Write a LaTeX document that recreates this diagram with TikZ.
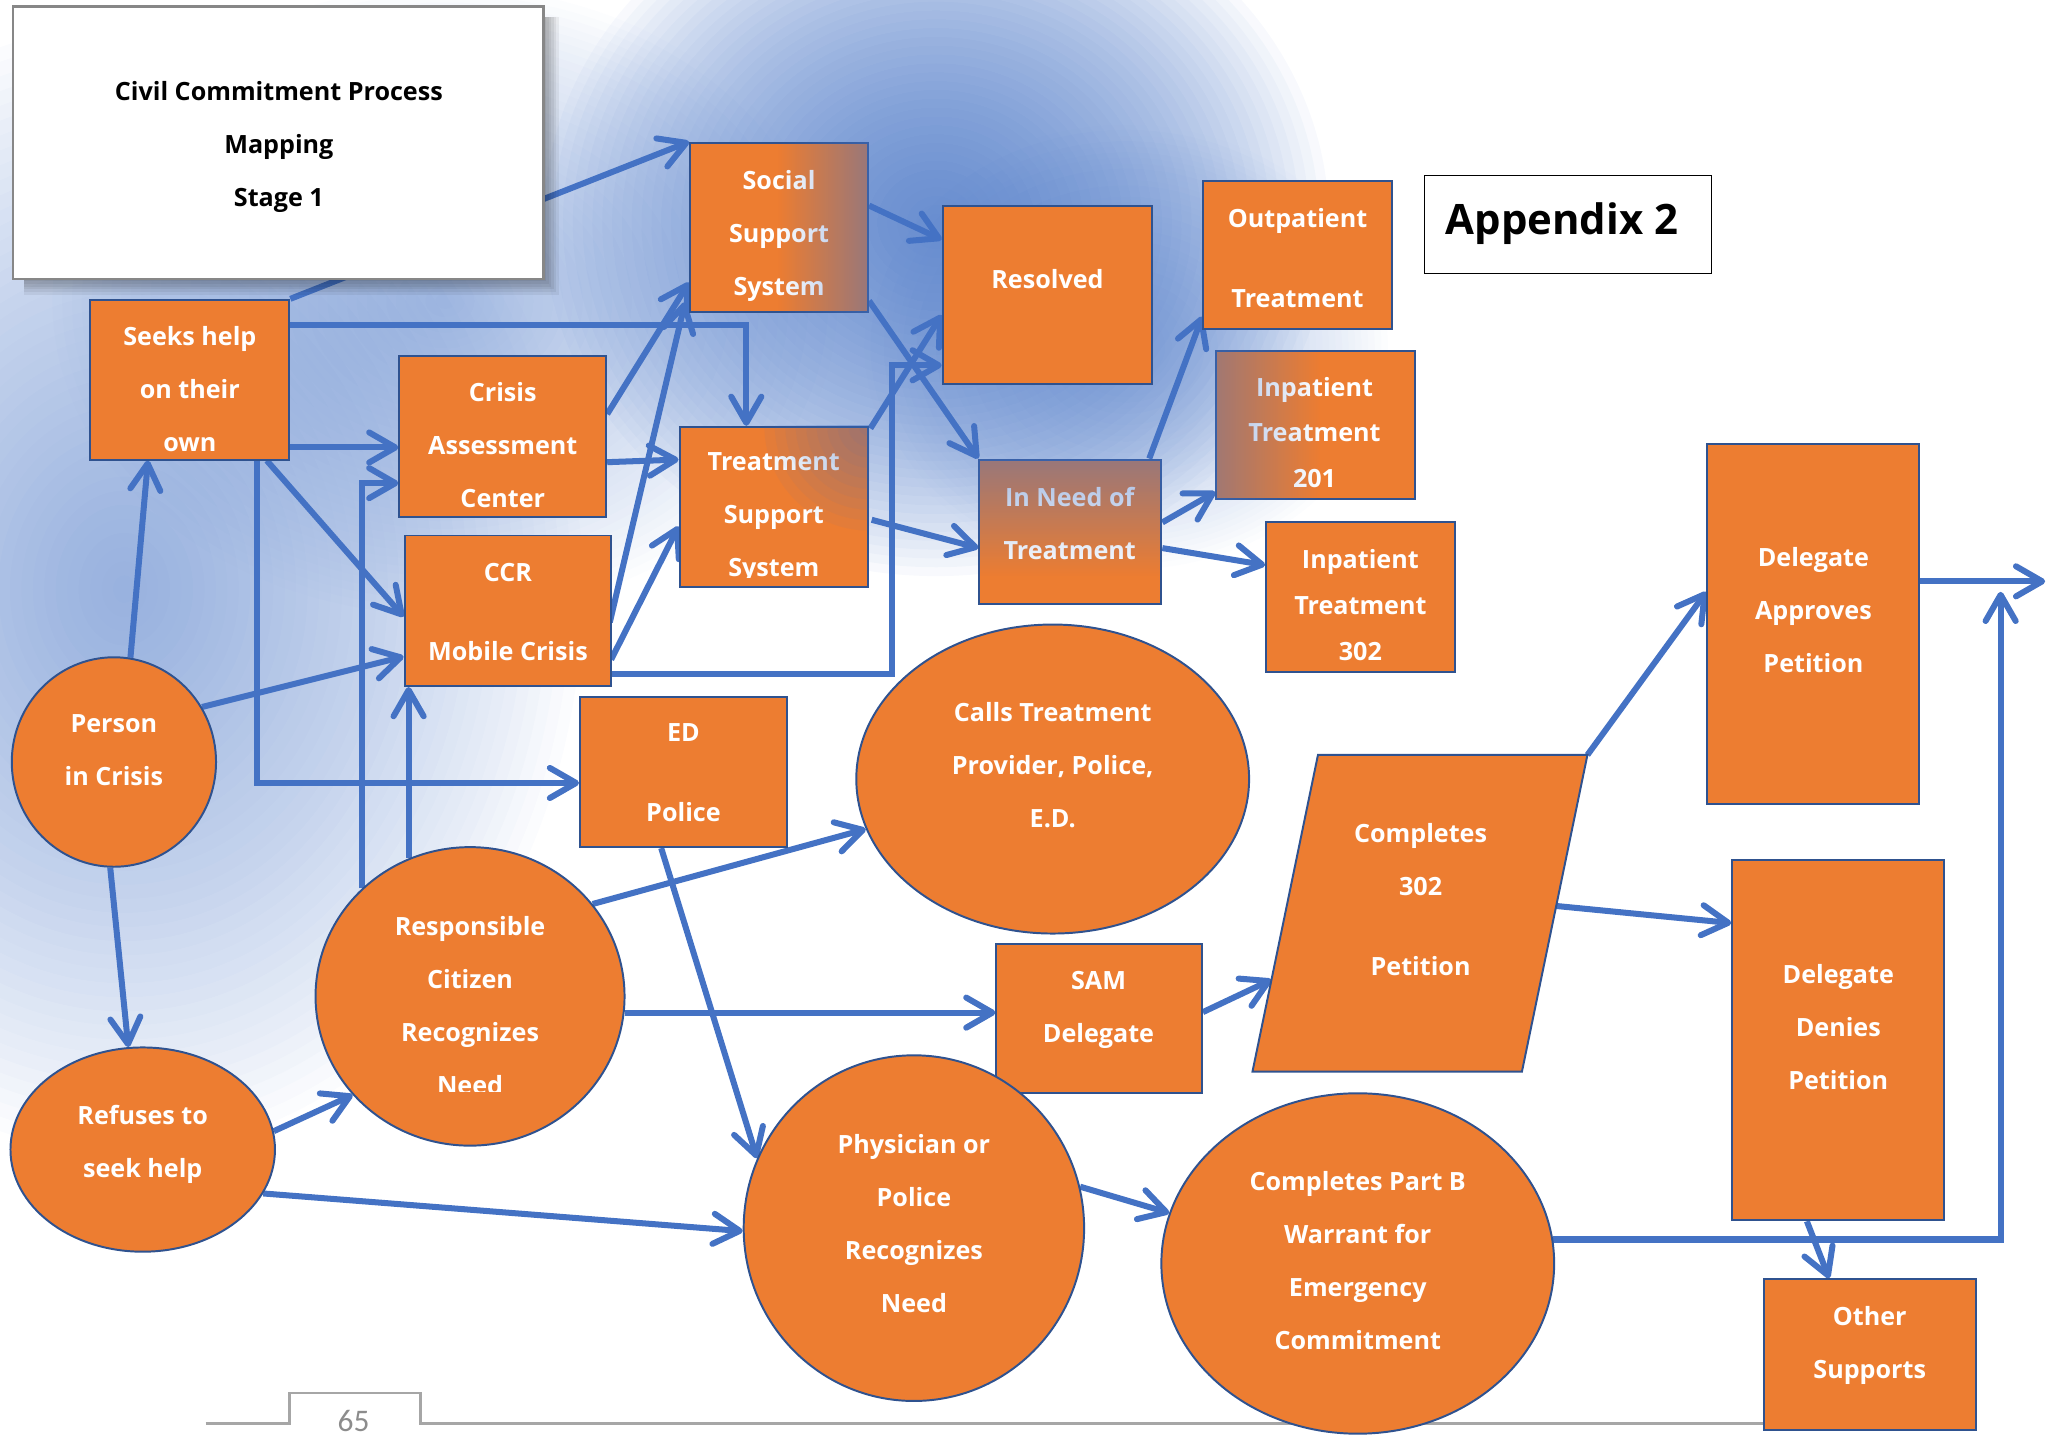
\documentclass[tikz,border=0pt]{standalone}
\usepackage{fontspec}
\setmainfont{Open Sans}
\newfontfamily\pagenumfont{Carlito}
\usetikzlibrary{arrows.meta,calc,fadings,shapes.geometric}

\definecolor{boxorange}{HTML}{ED7D31}
\definecolor{boxedge}{HTML}{2F528F}
\definecolor{linkblue}{HTML}{4472C4}
\definecolor{glowblue}{HTML}{4472C4}
\definecolor{framegray}{HTML}{878787}
\definecolor{footgray}{HTML}{A6A6A6}

\tikzfading[name=toright, left color=transparent!100, right color=transparent!0]
\tikzfading[name=fromleft, left color=transparent!0, right color=transparent!100]
\tikzfading[name=todown, top color=transparent!0, bottom color=transparent!100]

\pgfdeclarelayer{bg}
\pgfdeclarelayer{links}
\pgfsetlayers{bg,links,main}

\newcommand\tstrut{\vrule width 0pt height 10.4pt depth 4pt\relax}
% soft blue blob: centre x, centre y, x radius (pt), y radius (pt), opacity of each ring
\newcommand\hazeblob[5]{%
  \foreach \k in {1,...,40}{%
    \fill[glowblue, opacity=#5] (#1,#2) ellipse [x radius={#3pt*\k/40}, y radius={#4pt*\k/40}];}}

\tikzset{
  box/.style={rectangle, draw=boxedge, line width=0.75pt, fill=boxorange, inner sep=0pt},
  oval/.style={ellipse, draw=boxedge, line width=0.75pt, fill=boxorange, inner sep=0pt},
  boxtext/.style={text=white, font=\bfseries\fontsize{9.6}{20.25}\selectfont, align=center,
    inner sep=0pt, yshift=-2.1pt, execute at begin node=\tstrut, execute at end node=\tstrut},
  tighttext/.style={boxtext, font=\bfseries\fontsize{9.6}{17.5}\selectfont},
  link/.style={draw=linkblue, line width=2.3pt, -{Straight Barb[length=10pt,width=11.5pt,round]}},
}

\begin{document}
\begin{tikzpicture}[x=0.5pt, y=-0.5pt]
\useasboundingbox (0,0) rectangle (1568,1096);

% ---------- background haze and page footer ----------
\begin{pgfonlayer}{bg}
  \hazeblob{95}{450}{175}{215}{0.02}
  \hazeblob{340}{230}{150}{120}{0.015}
  \hazeblob{860}{265}{100}{85}{0.015}
  \hazeblob{715}{170}{150}{135}{0.039}

  \draw[footgray, line width=1pt] (157,1087) -- (221,1087) -- (221,1064) -- (321,1064) -- (321,1087) -- (1420,1087);
  \node[text=black!45, font=\pagenumfont\fontsize{12}{14}\selectfont, anchor=base, inner sep=0pt] (pagenum) at (270,1093) {65};
\end{pgfonlayer}

% ---------- title and appendix tag ----------
\coordinate (shTL) at (18,13);
\coordinate (shBR) at (415,213);
\foreach \d in {2,4,...,12}
  \fill[black, opacity=0.06] (shTL) rectangle ($(shBR)+(\d,\d)$);
\node[draw=framegray, line width=1pt, fill=white, minimum width=202.5pt, minimum height=104pt] (title) at (212.5,109) {};
\node[boxtext, text=black] (title-t) at (213,109.7) {Civil Commitment Process\\Mapping\\Stage 1};

\node[draw=black, line width=0.6pt, fill=white, minimum width=109.5pt, minimum height=37.5pt] (appendix) at (1197.5,171.5) {};
\node[font=\bfseries\fontsize{16}{19}\selectfont, inner sep=0pt] (appendix-t) at (1193,171) {Appendix 2};

% ---------- process boxes ----------
\node[box, minimum width=76pt, minimum height=61pt] (seeks) at (145,290) {};
\node[boxtext] (seeks-t) at (145,296.7) {Seeks help\\on their\\own};

\node[box, minimum width=79pt, minimum height=61.5pt] (cac) at (384,333.5) {};
\node[boxtext] (cac-t) at (384,339.7) {Crisis\\Assessment\\Center};

\node[box, minimum width=79pt, minimum height=57.5pt] (ccr) at (388,466.5) {};
\node[boxtext] (ccr-t) at (388,467) {CCR\\[9.75pt]Mobile Crisis};

\node[box, minimum width=68pt, minimum height=64.5pt] (sss) at (595,173.5) {};
\node[boxtext] (sss-t) at (595,177.7) {Social\\Support\\System};

\node[box, minimum width=72pt, minimum height=61pt] (tss) at (591,387) {};
\begin{scope}
  \clip (tss.north west) rectangle ($(tss.south east)+(0,-8)$);
  \node[boxtext] (tss-t) at (591,392.7) {Treatment\\Support\\System};
\end{scope}

\node[box, minimum width=80pt, minimum height=68pt] (resolved) at (800,225) {};
\node[boxtext] (resolved-t) at (800,210) {Resolved};

\node[box, minimum width=72pt, minimum height=56.5pt] (outpatient) at (991,194.5) {};
\node[boxtext] (outpatient-t) at (991,196.5) {Outpatient\\[10.25pt]Treatment};

\node[box, minimum width=76pt, minimum height=56.5pt] (inp201) at (1005,324.5) {};
\node[tighttext] (inp201-t) at (1004,330) {Inpatient\\Treatment\\201};

\node[box, minimum width=69.5pt, minimum height=55pt] (inneed) at (817.5,406) {};
\node[boxtext] (inneed-t) at (817,399.5) {In Need of\\Treatment};

\node[box, minimum width=72pt, minimum height=57pt] (inp302) at (1039,456) {};
\node[tighttext] (inp302-t) at (1039,462) {Inpatient\\Treatment\\302};

\node[box, minimum width=79pt, minimum height=57.5pt] (ed) at (522,589.5) {};
\node[boxtext] (ed-t) at (522,589.5) {ED\\[10.25pt]Police};

\node[box, minimum width=78.5pt, minimum height=57pt] (sam) at (839.5,778) {};
\node[boxtext] (sam-t) at (839,768.5) {SAM\\Delegate};

\node[box, minimum width=81pt, minimum height=137.5pt] (approves) at (1385,476.5) {};
\node[boxtext] (approves-t) at (1385,465.7) {Delegate\\Approves\\Petition};

\node[box, minimum width=81pt, minimum height=137.5pt] (denies) at (1404,794.5) {};
\node[boxtext] (denies-t) at (1404,784) {Delegate\\Denies\\Petition};

\node[box, minimum width=81pt, minimum height=57.5pt] (other) at (1428,1034.5) {};
\node[boxtext] (other-t) at (1428,1025) {Other\\Supports};

% petition parallelogram
\node[minimum width=127.5pt, minimum height=120.5pt, inner sep=0pt] (petition) at (1084.5,697.5) {};
\coordinate (petBL) at (petition.south west);
\coordinate (petTR) at (petition.north east);
\coordinate (petTL) at ($(petition.north west)+(50,0)$);
\coordinate (petBR) at ($(petition.south east)+(-50,0)$);
\path[draw=boxedge, line width=0.75pt, fill=boxorange] (petBL) -- (petTL) -- (petTR) -- (petBR) -- cycle;
\node[boxtext] (petition-t) at (1085,686.5) {Completes\\302\\[10.25pt]Petition};

% ---------- ovals ----------
\node[oval, minimum width=78pt, minimum height=80pt] (person) at (87,582) {};
\node[boxtext] (person-t) at (87,572.5) {Person\\in Crisis};

\node[oval, minimum width=101pt, minimum height=78pt] (refuses) at (109,878) {};
\node[boxtext] (refuses-t) at (109,871.5) {Refuses to\\seek help};

\node[oval, minimum width=118pt, minimum height=114pt] (citizen) at (359,761) {};
\begin{scope}
  \clip (241,640) rectangle (477,834);
  \node[boxtext] (citizen-t) at (359,768) {Responsible\\Citizen\\Recognizes\\Need};
\end{scope}

\node[oval, minimum width=150pt, minimum height=118pt] (calls) at (804,595) {};
\node[boxtext] (calls-t) at (804,583.7) {Calls Treatment\\Provider, Police,\\E.D.};

\node[oval, minimum width=130pt, minimum height=132pt] (physician) at (698,938) {};
\node[boxtext] (physician-t) at (698,934) {Physician or\\Police\\Recognizes\\Need};

\node[oval, minimum width=150pt, minimum height=130pt] (partb) at (1037,965) {};
\node[boxtext] (partb-t) at (1037,962.5) {Completes Part B\\Warrant for\\Emergency\\Commitment};

% ---------- tinted edges where the haze lies over boxes ----------
\fill[glowblue, opacity=0.5, path fading=toright] ($(sss.north east)+(-70,0)$) rectangle (sss.south east);
\begin{scope}
  \clip (tss.north west) rectangle (tss.south east);
  \foreach \k in {1,...,10}
    \fill[glowblue, opacity=0.055] (tss.north east) circle [radius={4pt*\k}];
\end{scope}
\fill[glowblue, opacity=0.5, path fading=todown] (inneed.north west) rectangle ($(inneed.north east)+(0,90)$);
\fill[glowblue, opacity=0.45, path fading=fromleft] (inp201.north west) rectangle ($(inp201.south west)+(80,0)$);

% free ends on the right
\coordinate (exitR) at (1562,444);
\coordinate (exitUp) at (1528,452);

% ---------- connectors ----------
\begin{pgfonlayer}{links}
\draw[link] (seeks.north east) -- (sss.north west);
\draw[link] ($(seeks.north east)+(0,20)$) -| ($(tss.north)+(-21,0)$);
\draw[link] ($(seeks.south east)+(0,-10)$) coordinate (s3) -- (s3 -| cac.west);
\draw[link] ($(seeks.south)+(51,0)$) |- ($(ed.west)+(0,8.5)$);
\draw[link] ($(seeks.south east)+(-18,0)$) -- ($(ccr.west)+(0,4.5)$);
\draw[link] (person.81) -- ($(seeks.south)+(-32,0)$);
\draw[link] (person.32) -- ($(ccr.west)+(0,35)$);
\draw[link] (person.268) -- (refuses.98);
\draw[link] (refuses.8) -- (citizen.220);
\draw[link] (refuses.-20) -- (physician.181);
\draw[link] (citizen.114) -- (citizen.114 |- ccr.south);
\draw[link] (citizen.135) |- ($(cac.west)+(0,35.5)$);
\draw[link] (citizen.37) -- (calls.195);
\draw[link] (citizen.-6) -- (citizen.-6 -| sam.west);
\draw[link] ($(ed.south)+(-17,0)$) -- (physician.156);
\draw[link] ($(cac.north east)+(0,45)$) -- ($(sss.south west)+(0,-23)$);
\draw[link] ($(ccr.north east)+(-2,67)$) -- ($(sss.south west)+(-3,-8)$);
\draw[link] ($(cac.east)+(0,19.5)$) -- ($(tss.west)+(0,-36)$);
\draw[link] ($(ccr.south east)+(-1,-21)$) -- ($(tss.west)+(0,15)$);
\draw[link] ($(ccr.south east)+(0,-10)$) -| ($(resolved.west)+(-38,54)$) -- ($(resolved.west)+(0,54)$);
\draw[link] ($(sss.east)+(0,-16.5)$) -- ($(resolved.west)+(0,-42)$);
\draw[link] ($(sss.south east)+(0,-9)$) -- (inneed.north west);
\draw[link] ($(tss.north east)+(1,2)$) -- ($(resolved.west)+(0,15.6)$);
\draw[link] ($(tss.east)+(2,10)$) -- ($(inneed.west)+(0,12.5)$);
\draw[link] ($(inneed.north east)+(-10,0)$) -- ($(outpatient.south west)+(0,-10)$);
\draw[link] ($(inneed.east)+(0,-7)$) -- ($(inp201.south west)+(0,-6)$);
\draw[link] ($(inneed.east)+(0,12.6)$) -- ($(inp302.west)+(0,-24.4)$);
\draw[link] ($(sam.east)+(0,-5)$) -- ($(petBL)!0.29!(petTL)$);
\draw[link] (petTR) -- ($(approves.west)+(0,-24.5)$);
\draw[link] ($(petBR)!0.523!(petTR)$) -- ($(denies.west)+(0,-89.5)$);
\draw[link] ($(approves.east)+(0,-32.5)$) coordinate (a1) -- (a1 -| exitR);
\draw[link] (partb.7) -| (exitUp);
\draw[link] ($(denies.south)+(-24,0)$) -- ($(other.north)+(-31,0)$);
\draw[link] (physician.14) -- (partb.165);
\end{pgfonlayer}
\end{tikzpicture}
\end{document}
